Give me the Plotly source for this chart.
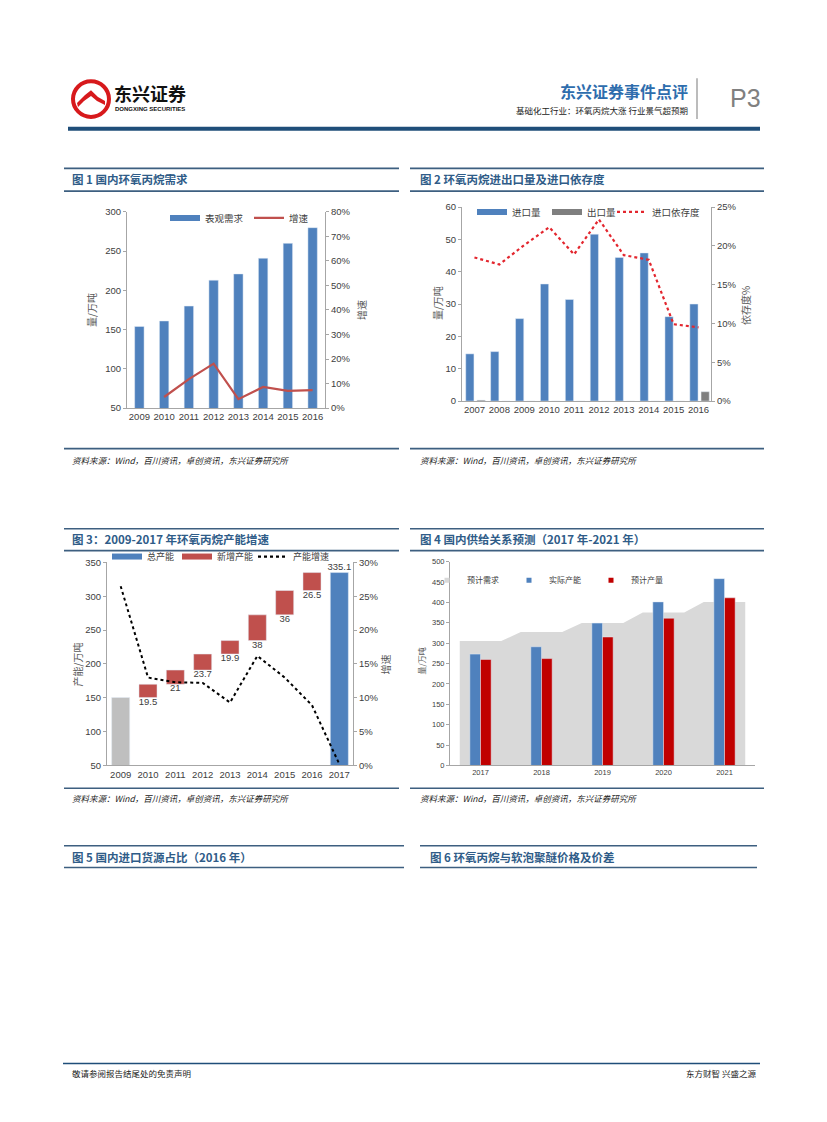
import plotly.graph_objects as go

W, H = 827, 1122
def X(px): return px / W
def Y(py): return 1 - py / H

# ---------------- data ----------------
years1 = ['2009', '2010', '2011', '2012', '2013', '2014', '2015', '2016']
demand1 = [154, 161, 180, 213, 221, 241, 260, 280]
growth1 = [None, 0.045, 0.118, 0.181, 0.036, 0.086, 0.070, 0.073]

years2 = ['2007', '2008', '2009', '2010', '2011', '2012', '2013', '2014', '2015', '2016']
imports2 = [14.6, 15.3, 25.5, 36.2, 31.4, 51.6, 44.4, 45.8, 26.1, 30.0]
exports2 = [0.3, 0, 0, 0, 0, 0, 0, 0, 0, 2.9]
depend2 = [0.185, 0.176, 0.201, 0.224, 0.189, 0.234, 0.188, 0.182, 0.099, 0.095]

years3 = ['2009', '2010', '2011', '2012', '2013', '2014', '2015', '2016', '2017']
cap2009 = 150.5
added3 = [19.5, 21, 23.7, 19.9, 38, 36, 26.5]
total2017 = 335.1
growth3 = [0.265, 0.130, 0.123, 0.122, 0.093, 0.162, 0.130, 0.089, 0.002]

years4 = ['2017', '2018', '2019', '2020', '2021']
demand4 = [305, 327, 349, 375, 401]
capacity4 = [273, 291, 349, 401, 458]
output4 = [260, 262, 315, 361, 411]

# ---------------- colours / fonts ----------------
BLUE = '#4F81BD'
RED1 = '#C0504D'
RED4 = '#C00000'
GRAY_BAR = '#BFBFBF'
AREA = '#D9D9D9'
TITLE_C = '#2F5C88'
LINE_C = '#3D5F80'
AX_C = '#A6A6A6'
TXT = '#404040'
FONT = 'Liberation Sans, Noto Sans CJK SC, sans-serif'
CJK = 'Noto Sans CJK SC, sans-serif'

fig = go.Figure()
legend_defs = {}
leg_counter = [0]

def legend_item(name, x_text, y, kind, color, xa, ya, dash=None, size=9.5, sym_size=6):
    """Separate positioned legend for one entry (x_text = left of entry text in px)."""
    leg_counter[0] += 1
    key = 'legend' if leg_counter[0] == 1 else f'legend{leg_counter[0]}'
    legend_defs[key] = dict(x=X(x_text - 43), y=Y(y), xanchor='left', yanchor='middle',
                            orientation='h', bgcolor='rgba(0,0,0,0)', itemwidth=30,
                            font=dict(size=size, color=TXT, family=CJK))
    if kind == 'rect':
        tr = go.Scatter(x=[None], y=[None], mode='lines', name=name,
                        line=dict(color=color, width=6), xaxis=xa, yaxis=ya, legend=key)
    elif kind == 'line':
        tr = go.Scatter(x=[None], y=[None], mode='lines', name=name,
                        line=dict(color=color, width=2.2, dash=dash), xaxis=xa, yaxis=ya,
                        legend=key)
    else:
        tr = go.Scatter(x=[None], y=[None], mode='markers', name=name,
                        marker=dict(color=color, size=sym_size, symbol='square'),
                        xaxis=xa, yaxis=ya, legend=key)
    fig.add_trace(tr)

# ---------- chart 1 ----------
fig.add_trace(go.Bar(x=years1, y=demand1, marker_color=BLUE, width=0.38,
                     xaxis='x', yaxis='y', showlegend=False))
fig.add_trace(go.Scatter(x=years1, y=growth1, mode='lines', showlegend=False,
                         line=dict(color=RED1, width=2.2), xaxis='x', yaxis='y2'))
legend_item('表观需求', 208, 214, 'rect', BLUE, 'x', 'y')
legend_item('增速', 292, 214, 'line', RED1, 'x', 'y')

# ---------- chart 2 ----------
fig.add_trace(go.Bar(x=years2, y=imports2, marker_color=BLUE, showlegend=False,
                     width=0.33, offset=-0.35, xaxis='x3', yaxis='y3'))
fig.add_trace(go.Bar(x=years2, y=exports2, marker_color='#7F7F7F', showlegend=False,
                     width=0.33, offset=0.1, xaxis='x3', yaxis='y3'))
fig.add_trace(go.Scatter(x=years2, y=depend2, mode='lines', showlegend=False,
                         line=dict(color='#E3262E', width=2.2, dash='dot'),
                         xaxis='x3', yaxis='y4'))
legend_item('进口量', 515, 208, 'rect', BLUE, 'x3', 'y3')
legend_item('出口量', 590, 208, 'rect', '#7F7F7F', 'x3', 'y3')
legend_item('进口依存度', 655, 208, 'line', '#E3262E', 'x3', 'y3', dash='dot')

# ---------- chart 3 ----------
bases3 = []
acc = cap2009
for a in added3:
    bases3.append(acc)
    acc += a
fig.add_trace(go.Bar(x=[years3[0]], y=[cap2009], marker_color=GRAY_BAR, width=0.66,
                     showlegend=False, xaxis='x5', yaxis='y5', hoverinfo='skip'))
fig.add_trace(go.Bar(x=[years3[-1]], y=[total2017], marker_color=BLUE, width=0.66,
                     showlegend=False, xaxis='x5', yaxis='y5'))
fig.add_trace(go.Bar(x=years3[1:8], y=added3, base=bases3, marker_color=RED1, width=0.66,
                     showlegend=False, xaxis='x5', yaxis='y5'))
fig.add_trace(go.Scatter(x=years3[1:8], y=bases3, mode='text',
                         text=[f'{a:g}' for a in added3], textposition='bottom center',
                         textfont=dict(size=9.5, color=TXT, family=FONT),
                         showlegend=False, xaxis='x5', yaxis='y5', hoverinfo='skip'))
fig.add_trace(go.Scatter(x=[years3[-1]], y=[total2017], mode='text',
                         text=[f'{total2017}'], textposition='top center',
                         textfont=dict(size=9.5, color=TXT, family=FONT), cliponaxis=False,
                         showlegend=False, xaxis='x5', yaxis='y5', hoverinfo='skip'))
fig.add_trace(go.Scatter(x=years3, y=growth3, mode='lines', showlegend=False,
                         line=dict(color='black', width=2, dash='dot'),
                         xaxis='x5', yaxis='y6'))
legend_item('总产能', 150, 556, 'rect', BLUE, 'x5', 'y5', size=9)
legend_item('新增产能', 220, 556, 'rect', RED1, 'x5', 'y5', size=9)
legend_item('产能增速', 296, 556, 'line', 'black', 'x5', 'y5', dash='dot', size=9)

# ---------- chart 4 ----------
idx4 = list(range(len(years4)))
ax, ay = [], []
for i, d in zip(idx4, demand4):
    ax += [i - 0.34, i + 0.34]
    ay += [d, d]
fig.add_trace(go.Scatter(x=ax, y=ay, mode='lines', fill='tozeroy',
                         line=dict(width=0, color=AREA), fillcolor=AREA,
                         showlegend=False, xaxis='x7', yaxis='y7', hoverinfo='skip'))
fig.add_trace(go.Bar(x=idx4, y=capacity4, marker_color=BLUE, showlegend=False,
                     width=0.175, offset=-0.175, xaxis='x7', yaxis='y8'))
fig.add_trace(go.Bar(x=idx4, y=output4, marker_color=RED4, showlegend=False,
                     width=0.175, offset=0, xaxis='x7', yaxis='y8'))
legend_item('预计需求', 470, 580, 'sq', AREA, 'x7', 'y7', size=8, sym_size=5)
legend_item('实际产能', 552, 580, 'sq', BLUE, 'x7', 'y7', size=8, sym_size=5)
legend_item('预计产量', 634, 580, 'sq', RED4, 'x7', 'y7', size=8, sym_size=5)

# ---------------- axes ----------------
tick_font = dict(size=9.5, color=TXT, family=FONT)
small_font = dict(size=7.5, color=TXT, family=FONT)

def yax(domain, rng, dtick, side='left', overlay=None, fmt=None, anchor=None, font=tick_font):
    d = dict(domain=domain, range=rng, dtick=dtick, showgrid=False, zeroline=False,
             showline=True, linecolor=AX_C, linewidth=1, ticks='outside', ticklen=3,
             tickcolor=AX_C, tickfont=font, side=side, fixedrange=True)
    if overlay:
        d['overlaying'] = overlay
        d.pop('domain')
    if fmt:
        d['tickformat'] = fmt
    if anchor:
        d['anchor'] = anchor
    return d

def xax(domain, anchor, font=tick_font, **kw):
    d = dict(domain=domain, anchor=anchor, showgrid=False, zeroline=False, showline=True,
             linecolor=AX_C, linewidth=1, ticks='', tickfont=font, fixedrange=True)
    d.update(kw)
    return d

fig.update_layout(
    xaxis=xax([X(127), X(325)], 'y', type='category', categoryorder='array',
              categoryarray=years1),
    yaxis=yax([Y(406), Y(208)], [50, 300], 50, anchor='x'),
    yaxis2=yax(None, [0, 0.8], 0.1, side='right', overlay='y', fmt='.0%', anchor='x'),
    xaxis3=xax([X(462), X(711)], 'y3', type='category', categoryorder='array',
               categoryarray=years2),
    yaxis3=yax([Y(399), Y(203)], [0, 60], 10, anchor='x3'),
    yaxis4=yax(None, [0, 0.25], 0.05, side='right', overlay='y3', fmt='.0%', anchor='x3'),
    xaxis5=xax([X(107), X(353)], 'y5', type='category', categoryorder='array',
               categoryarray=years3),
    yaxis5=yax([Y(767), Y(562)], [50, 350], 50, anchor='x5'),
    yaxis6=yax(None, [0, 0.30], 0.05, side='right', overlay='y5', fmt='.0%', anchor='x5'),
    xaxis7=xax([X(450), X(755)], 'y7', font=small_font, range=[-0.5, 4.5],
               tickvals=idx4, ticktext=years4),
    yaxis7=yax([Y(767), Y(561)], [0, 500], 50, anchor='x7', font=small_font),
    yaxis8=dict(overlaying='y7', range=[0, 500], visible=False, fixedrange=True,
                anchor='x7'),
    barmode='overlay',
    width=W, height=H,
    margin=dict(l=0, r=0, t=0, b=0, pad=0),
    paper_bgcolor='white', plot_bgcolor='rgba(0,0,0,0)',
    font=dict(family=FONT, color=TXT),
    **legend_defs,
)

# ---------------- page decorations ----------------
shapes = []
ann = []
def hline(x0, x1, y, color=LINE_C, w=1.6):
    shapes.append(dict(type='line', xref='paper', yref='paper', x0=X(x0), x1=X(x1),
                       y0=Y(y), y1=Y(y), line=dict(color=color, width=w)))
def text(x, y, s, size=9, color='black', xanchor='left', family=CJK, **kw):
    ann.append(dict(xref='paper', yref='paper', x=X(x), y=Y(y), text=s, showarrow=False,
                    xanchor=xanchor, yanchor='middle', font=dict(size=size, color=color,
                    family=family), **kw))

# header
hline(68, 760, 124, color='#1F4E79', w=4)
shapes.append(dict(type='line', xref='paper', yref='paper', x0=X(697), x1=X(697),
                   y0=Y(73), y1=Y(114), line=dict(color='#A6A6A6', width=1.5)))
# logo
shapes.append(dict(type='circle', xref='paper', yref='paper', x0=X(73), x1=X(109),
                   y0=Y(112), y1=Y(76), line=dict(color='#D7191C', width=4),
                   fillcolor='white'))
path = (f'M {X(77)},{Y(98)} L {X(85)},{Y(90)} L {X(91)},{Y(85)} L {X(98)},{Y(92)} '
        f'L {X(105)},{Y(96)} L {X(105)},{Y(100)} L {X(97)},{Y(96)} L {X(91)},{Y(91)} '
        f'L {X(84)},{Y(96)} L {X(78)},{Y(102)} Z')
shapes.append(dict(type='path', xref='paper', yref='paper', path=path,
                   fillcolor='#D7191C', line=dict(width=0)))
text(112, 88, '<b>东兴证券</b>', size=18, color='#111111')
text(113, 104, '<b>DONGXING SECURITIES</b>', size=6, color='#111111', family=FONT)
text(690, 86, '<b>东兴证券事件点评</b>', size=16, color='#2E6DAD', xanchor='right')
text(690, 105, '基础化工行业：环氧丙烷大涨 行业景气超预期', size=8.5, color='#222222',
     xanchor='right')
text(745, 93, 'P3', size=25, color='#808080', xanchor='center', family=FONT)

# panels
for (x0, x1) in [(64, 399), (410, 764)]:
    hline(x0, x1, 164)
    hline(x0, x1, 187)
    hline(x0, x1, 447)
    hline(x0, x1, 528)
    hline(x0, x1, 550)
    hline(x0, x1, 790)
for (x0, x1) in [(64, 404), (420, 757)]:
    hline(x0, x1, 848)
    hline(x0, x1, 870)

text(70, 175, '<b>图 1 国内环氧丙烷需求</b>', size=11.5, color=TITLE_C)
text(418, 175, '<b>图 2 环氧丙烷进出口量及进口依存度</b>', size=11.5, color=TITLE_C)
text(70, 538, '<b>图 3：2009-2017 年环氧丙烷产能增速</b>', size=11.5, color=TITLE_C)
text(418, 538, '<b>图 4 国内供给关系预测（2017 年-2021 年）</b>', size=11.5, color=TITLE_C)
text(70, 859, '<b>图 5 国内进口货源占比（2016 年）</b>', size=11.5, color=TITLE_C)
text(428, 859, '<b>图 6 环氧丙烷与软泡聚醚价格及价差</b>', size=11.5, color=TITLE_C)

src = '<i>资料来源：Wind，百川资讯，卓创资讯，东兴证券研究所</i>'
for (x, y) in [(70, 458), (418, 458), (70, 800), (418, 800)]:
    text(x, y, src, size=8.5, color='#222222')

# axis titles
text(92, 307, '量/万吨', size=10, color='#595959', xanchor='center', textangle=-90)
text(362, 307, '增速', size=10, color='#595959', xanchor='center', textangle=-90)
text(437, 300, '量/万吨', size=10, color='#595959', xanchor='center', textangle=-90)
text(745, 303, '依存度%', size=10, color='#595959', xanchor='center', textangle=-90)
text(77, 665, '产能/万吨', size=10, color='#595959', xanchor='center', textangle=-90)
text(385, 665, '增速', size=10, color='#595959', xanchor='center', textangle=-90)
text(422, 662, '量/万吨', size=8, color='#595959', xanchor='center', textangle=-90)

# footer
hline(63, 760, 1068, color='#1F4E79', w=1.5)
text(70, 1078, '敬请参阅报告结尾处的免责声明', size=8.5, color='#222222')
text(758, 1078, '东方财智 兴盛之源', size=8.5, color='#222222', xanchor='right')

fig.update_layout(shapes=shapes, annotations=ann)
fig.write_html('out.html', config={'displayModeBar': False},
               post_script="document.body.style.margin='0';document.body.style.padding='0';")
